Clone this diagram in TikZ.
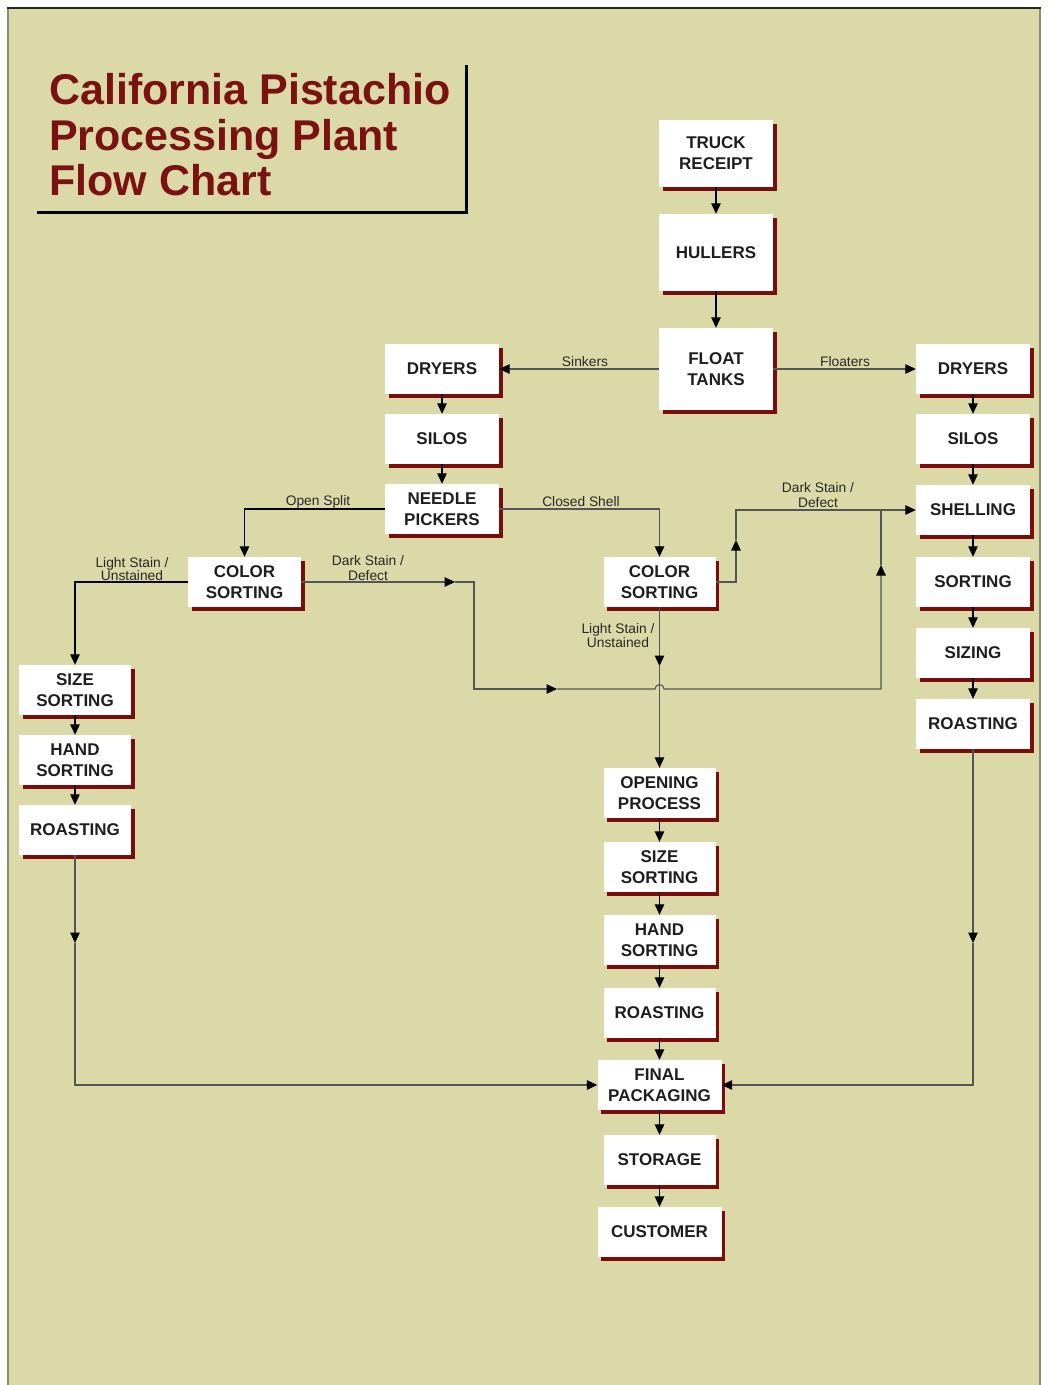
\documentclass[tikz,border=0pt]{standalone}
\usepackage{fontspec}
\setmainfont{Liberation Sans}
\usetikzlibrary{arrows.meta,shadows}
\definecolor{bg}{RGB}{219,217,167}
\definecolor{shadowred}{RGB}{123,12,12}
\definecolor{titlered}{RGB}{122,18,18}
\definecolor{linegray}{RGB}{85,85,85}
\definecolor{boxtext}{RGB}{30,30,30}
\definecolor{labeltext}{RGB}{40,40,40}
\definecolor{edgegray}{RGB}{140,140,115}
\begin{document}
\begin{tikzpicture}[x=1pt,y=-1pt,
  box/.style={fill=white, draw=none, align=center,
    font=\bfseries\fontsize{17}{21}\selectfont, text=boxtext, inner sep=0pt,
    minimum width=114pt, minimum height=50pt,
    general shadow={fill=shadowred, shadow xshift=3.5pt, shadow yshift=-3.5pt}},
  conn/.style={draw=linegray, line width=1.1pt},
  sconn/.style={draw=black, line width=1.1pt},
  tip/.style={-{Triangle[length=10.5pt,width=9.5pt,color=black]}},
  lbl/.style={font=\fontsize{13.8}{14}\selectfont, text=labeltext, align=center, inner sep=0pt},
  titletext/.style={font=\bfseries\fontsize{43}{46}\selectfont, text=titlered, inner sep=0pt, anchor=base west}]
% page
\useasboundingbox (0,0) rectangle (1061,1385);
\fill[white] (0,0) rectangle (1061,1385);
\fill[bg] (8,8) rectangle (1040,1385);
\draw[edgegray, line width=2pt] (8,8) -- (8,1385);
\draw[edgegray, line width=2pt] (1040,8) -- (1040,1385);
\draw[black!85, line width=1.5pt] (7,8) -- (1041,8);
% title
\node[titletext] (t1) at (49,104) {California Pistachio};
\node[titletext] (t2) at (49,150) {Processing Plant};
\node[titletext] (t3) at (49,195) {Flow Chart};
\draw[black, line width=3pt] (37,212) -- (466,212) -- (466,65);
% top column
\node[box, minimum height=67pt] (truck) at (716,153.5) {TRUCK\\RECEIPT};
\node[box, minimum height=77pt] (hullers) at (716,252.5) {HULLERS};
\node[box, minimum height=82pt] (float) at (716,369) {FLOAT\\TANKS};
% left branch
\node[box] (dryL) at (442,369) {DRYERS};
\node[box] (siloL) at (442,439) {SILOS};
\node[box] (needle) at (442,509) {NEEDLE\\PICKERS};
\node[box, minimum width=113pt] (csL) at (244.5,582) {COLOR\\SORTING};
\node[box, minimum width=112pt] (sizeL) at (75,690) {SIZE\\SORTING};
\node[box, minimum width=112pt] (handL) at (75,760) {HAND\\SORTING};
\node[box, minimum width=112pt] (roastL) at (75,830) {ROASTING};
% right branch
\node[box] (dryR) at (973,369) {DRYERS};
\node[box] (siloR) at (973,439) {SILOS};
\node[box] (shell) at (973,510) {SHELLING};
\node[box] (sortR) at (973,582) {SORTING};
\node[box] (sizing) at (973,653) {SIZING};
\node[box] (roastR) at (973,724) {ROASTING};
% middle column
\node[box, minimum width=112pt] (csM) at (659.5,582) {COLOR\\SORTING};
\node[box, minimum width=112pt] (open) at (659.5,793) {OPENING\\PROCESS};
\node[box, minimum width=112pt] (sizeM) at (659.5,867) {SIZE\\SORTING};
\node[box, minimum width=112pt] (handM) at (659.5,940) {HAND\\SORTING};
\node[box, minimum width=112pt] (roastM) at (659.5,1013) {ROASTING};
\node[box, minimum width=124pt] (final) at (659.5,1085) {FINAL\\PACKAGING};
\node[box, minimum width=112pt] (storage) at (659.5,1160) {STORAGE};
\node[box, minimum width=124pt] (customer) at (659.5,1232) {CUSTOMER};
% coordinates
\coordinate (a1) at (455,582);
\coordinate (a2) at (474,582);
\coordinate (a3) at (474,689);
\coordinate (a4) at (557,689);
\coordinate (hopL) at (655,689);
\coordinate (a5) at (881,689);
\coordinate (a6) at (881,565);
\coordinate (j1) at (881,510);
\coordinate (b1) at (736,582);
\coordinate (b2) at (736,540);
\coordinate (b3) at (736,510);
\coordinate (c1) at (659.5,666);
\coordinate (d1) at (75,943);
\coordinate (e1) at (973,943);
% straight flow
\draw[sconn,tip] (truck.south) -- (hullers.north);
\draw[sconn,tip] (hullers.south) -- (float.north);
\draw[conn,tip] (float.west) -- (dryL.east);
\draw[conn,tip] (float.east) -- (dryR.west);
\draw[sconn,tip] (dryL.south) -- (siloL.north);
\draw[sconn,tip] (siloL.south) -- (needle.north);
\draw[sconn,tip] (dryR.south) -- (siloR.north);
\draw[sconn,tip] (siloR.south) -- (shell.north);
\draw[sconn,tip] (shell.south) -- (sortR.north);
\draw[sconn,tip] (sortR.south) -- (sizing.north);
\draw[sconn,tip] (sizing.south) -- (roastR.north);
\draw[sconn,tip] (sizeL.south) -- (handL.north);
\draw[sconn,tip] (handL.south) -- (roastL.north);
\draw[sconn,tip] (open.south) -- (sizeM.north);
\draw[sconn,tip] (sizeM.south) -- (handM.north);
\draw[sconn,tip] (handM.south) -- (roastM.north);
\draw[sconn,tip] (roastM.south) -- (final.north);
\draw[sconn,tip] (final.south) -- (storage.north);
\draw[sconn,tip] (storage.south) -- (customer.north);
% branches
\draw[sconn,tip] (needle.west) -| (csL.north);
\draw[conn,tip] (needle.east) -| (csM.north);
\draw[sconn,tip] (csL.west) -| (sizeL.north);
\draw[conn,tip] (csL.east) -- (a1);
\draw[conn,tip] (a1) -- (a2) -- (a3) -- (a4);
\draw[conn,tip] (a4) -- (hopL) arc[start angle=180, end angle=360, radius=4.5] -- (a5) -- (a6);
\draw[conn] (a6) -- (j1);
\draw[conn,tip] (csM.east) -- (b1) -- (b2);
\draw[conn,tip] (b2) -- (b3) -- (shell.west);
\draw[conn,tip] (csM.south) -- (c1);
\draw[conn,tip] (c1) -- (open.north);
\draw[conn,tip] (roastL.south) -- (d1);
\draw[conn,tip] (d1) |- (final.west);
\draw[conn,tip] (roastR.south) -- (e1);
\draw[conn,tip] (e1) |- (final.east);
% labels
\node[lbl, anchor=base] (lsink) at (585,366) {Sinkers};
\node[lbl, anchor=base] (lfloat) at (845,366) {Floaters};
\node[lbl, anchor=base] (lopen) at (318,505.5) {Open Split};
\node[lbl, anchor=base] (lclosed) at (581,506) {Closed Shell};
\node[lbl, font=\fontsize{13.8}{12}\selectfont] (llightL) at (132,569) {Light Stain /\\Unstained};
\node[lbl, font=\fontsize{13.8}{15}\selectfont] (ldarkL) at (368,568) {Dark Stain /\\Defect};
\node[lbl, font=\fontsize{13.8}{15}\selectfont] (ldarkR) at (818,495) {Dark Stain /\\Defect};
\node[lbl, font=\fontsize{13.8}{14}\selectfont] (llightM) at (618,636) {Light Stain /\\Unstained};
\end{tikzpicture}
\end{document}
